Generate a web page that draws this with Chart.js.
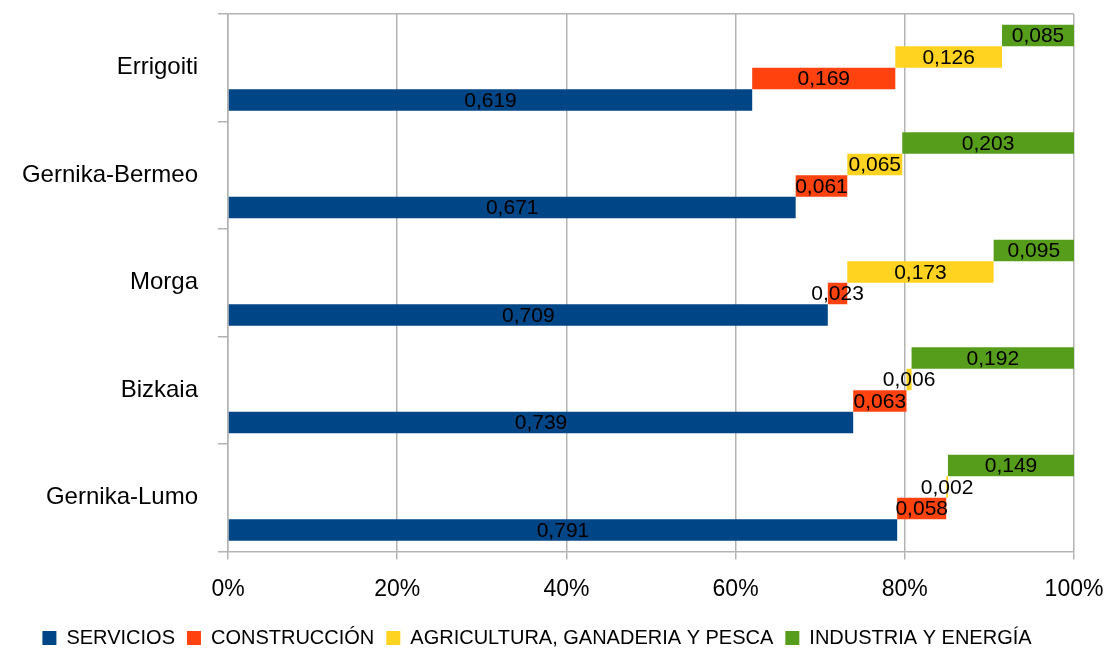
<!DOCTYPE html>
<html>
<head>
<meta charset="utf-8">
<title>Sectores de actividad</title>
<script src="https://cdn.jsdelivr.net/npm/chart.js@4"></script>
<style>
  html, body { margin: 0; padding: 0; background: #fff; }
  #wrap { width: 1109px; height: 651px; position: relative; }
</style>
</head>
<body>
<div id="wrap"><canvas id="myChart"></canvas></div>
<script>
// Share of employment by sector in each area
const areas = ['Errigoiti', 'Gernika-Bermeo', 'Morga', 'Bizkaia', 'Gernika-Lumo'];
const servicios   = [0.619, 0.671, 0.709, 0.739, 0.791];
const construccion = [0.169, 0.061, 0.023, 0.063, 0.058];
const agricultura = [0.126, 0.065, 0.173, 0.006, 0.002];
const industria   = [0.085, 0.203, 0.095, 0.192, 0.149];
const xTicks = ['0%', '20%', '40%', '60%', '80%', '100%'];

const gridGray = '#b3b3b3';
const fontFamily = '"Liberation Sans", Arial, Helvetica, sans-serif';

// Each sector starts where the previous one ends (percent of the row total)
const series = [
  { label: 'SERVICIOS', values: servicios, color: '#004586' },
  { label: 'CONSTRUCCIÓN', values: construccion, color: '#ff420e' },
  { label: 'AGRICULTURA, GANADERIA Y PESCA', values: agricultura, color: '#ffd320' },
  { label: 'INDUSTRIA Y ENERGÍA', values: industria, color: '#579d1c' }
];

const totals = areas.map((a, i) => series.reduce((s, d) => s + d.values[i], 0));
const starts = areas.map(() => 0);
const datasets = series.map(s => {
  const data = areas.map((a, i) => {
    const from = starts[i];
    const to = from + s.values[i] / totals[i];
    starts[i] = to;
    return [from, to];
  });
  return {
    label: s.label,
    data: data,
    raw: s.values,
    backgroundColor: s.color,
    borderWidth: 0,
    categoryPercentage: 0.8,
    barPercentage: 1.0
  };
}).reverse(); // top slot in each row is the last sector

// Writes the value in the middle of every bar
const valueLabels = {
  id: 'valueLabels',
  afterDatasetsDraw(chart) {
    const ctx = chart.ctx;
    ctx.save();
    ctx.font = '21px ' + fontFamily;
    ctx.fillStyle = '#000';
    ctx.textAlign = 'center';
    ctx.textBaseline = 'middle';
    chart.data.datasets.forEach((ds, di) => {
      chart.getDatasetMeta(di).data.forEach((bar, i) => {
        const p = bar.getCenterPoint();
        ctx.fillText(ds.raw[i].toFixed(3).replace('.', ','), p.x, p.y + 1);
      });
    });
    ctx.restore();
  }
};

new Chart(document.getElementById('myChart'), {
  type: 'bar',
  data: { labels: areas, datasets: datasets },
  plugins: [valueLabels],
  options: {
    indexAxis: 'y',
    responsive: true,
    maintainAspectRatio: false,
    animation: false,
    layout: { padding: { top: 14, right: 35, bottom: -7, left: 0 } },
    scales: {
      x: {
        min: 0,
        max: 1,
        ticks: {
          stepSize: 0.2,
          color: '#000',
          padding: 16,
          font: { family: fontFamily, size: 23 },
          callback: (v, i) => xTicks[i]
        },
        grid: { color: gridGray, lineWidth: 1.5, tickLength: 8, tickColor: gridGray },
        border: { color: gridGray, width: 1.5 },
        afterFit: scale => {
          scale.height = 64.5;
          scale.paddingLeft = 0;
          scale.paddingRight = 0;
        }
      },
      y: {
        ticks: {
          color: '#000',
          padding: 20,
          font: { family: fontFamily, size: 24 }
        },
        grid: {
          offset: true,
          lineWidth: 1.5,
          tickLength: 10,
          tickColor: gridGray,
          color: c => (c.index === 0 ? gridGray : 'rgba(0,0,0,0)')
        },
        border: { color: gridGray, width: 1.5 },
        afterFit: scale => {
          scale.width = 228;
          scale.paddingTop = 0;
          scale.paddingBottom = 0;
        }
      }
    },
    plugins: {
      tooltip: { enabled: false },
      legend: {
        position: 'bottom',
        reverse: true,
        labels: {
          color: '#000',
          boxWidth: 14,
          boxHeight: 14,
          padding: 12,
          font: { family: fontFamily, size: 20 }
        }
      }
    }
  }
});
</script>
</body>
</html>
